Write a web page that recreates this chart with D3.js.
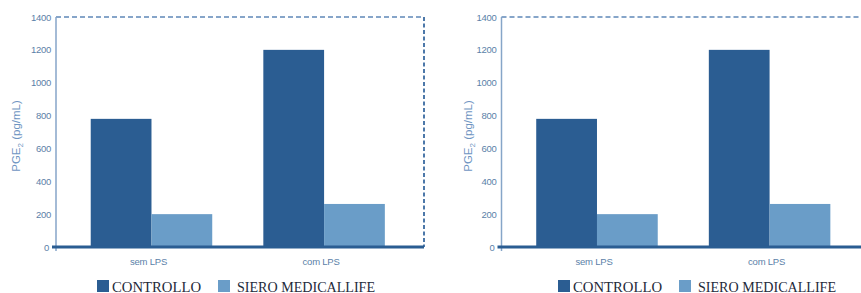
<!DOCTYPE html>
<html><head><meta charset="utf-8">
<script src="https://cdn.jsdelivr.net/npm/d3@7"></script>
<style>html,body{margin:0;padding:0;background:#fff;}svg{display:block;}</style>
</head><body>
<script>
const categories = ["sem LPS", "com LPS"];
const seriesNames = ["CONTROLLO", "SIERO MEDICALLIFE"];
const controllo = [780, 1200];
const siero = [200, 262];
const yTicks = [0, 200, 400, 600, 800, 1000, 1200, 1400];
const colors = ["#2b5d92", "#6a9dc8"];

const W = 861, H = 293;
const svg = d3.select("body").append("svg").attr("width", W).attr("height", H);

const panels = [
  {x0: 56, x1: 424, titleX: 16, legendX: 97},
  {x0: 501.5, x1: 869.5, titleX: 468, legendX: 558}
];
const plotTop = 17, plotBottom = 247;

panels.forEach(p => {
  const g = svg.append("g");
  const x = d3.scaleBand().domain(categories).range([p.x0, p.x1])
    .paddingInner(0.296).paddingOuter(0.214).align(0.47);
  const xs = d3.scaleBand().domain(seriesNames).range([0, x.bandwidth()]);
  const y = d3.scaleLinear().domain([0, 1400]).range([plotBottom, plotTop]);

  g.append("line").attr("x1", p.x0).attr("x2", p.x1).attr("y1", plotTop).attr("y2", plotTop)
    .attr("stroke", "#5f88b8").attr("stroke-width", 1.5).attr("stroke-dasharray", "5,3");
  g.append("line").attr("x1", p.x1).attr("x2", p.x1).attr("y1", plotTop).attr("y2", plotBottom)
    .attr("stroke", "#3a6aa0").attr("stroke-width", 1.8).attr("stroke-dasharray", "4,2.5");
  g.append("line").attr("x1", p.x0).attr("x2", p.x0).attr("y1", plotTop).attr("y2", plotBottom + 4)
    .attr("stroke", "#86a5c8").attr("stroke-width", 1.5);

  const rows = categories.map((c, i) => ({cat: c, vals: [controllo[i], siero[i]]}));
  const grp = g.selectAll("g.grp").data(rows).join("g").attr("class", "grp")
    .attr("transform", d => `translate(${x(d.cat)},0)`);
  grp.selectAll("rect").data(d => d.vals.map((v, j) => ({s: seriesNames[j], v, j})))
    .join("rect")
    .attr("x", d => xs(d.s)).attr("width", xs.bandwidth())
    .attr("y", d => y(d.v)).attr("height", d => y(0) - y(d.v))
    .attr("fill", d => colors[d.j]);

  g.append("line").attr("x1", p.x0 - 4).attr("x2", p.x1).attr("y1", y(0)).attr("y2", y(0))
    .attr("stroke", "#2a5d92").attr("stroke-width", 3);

  const ya = g.append("g").attr("transform", `translate(${p.x0},0)`)
    .call(d3.axisLeft(y).tickValues(yTicks).tickFormat(d3.format("d")).tickSize(0).tickPadding(5));
  ya.select(".domain").remove();
  ya.selectAll("text").attr("fill", "#5b7fa8").attr("font-family", "Liberation Sans, Arial, sans-serif")
    .attr("font-size", "9.5px").attr("letter-spacing", "-0.3px");
  ya.selectAll(".tick").filter(d => d === 0).select("text").attr("dx", "-2");

  g.selectAll("text.cat").data(categories).join("text").attr("class", "cat")
    .attr("x", d => x(d) + x.bandwidth() / 2 - 3).attr("y", 265)
    .attr("text-anchor", "middle").attr("fill", "#5b7fa8")
    .attr("font-family", "Liberation Sans, Arial, sans-serif").attr("font-size", "9.5px")
    .attr("letter-spacing", "-0.2px")
    .text(d => d);

  const t = g.append("text").attr("transform", `translate(${p.titleX},${(plotTop + plotBottom) / 2 + 4}) rotate(-90)`)
    .attr("text-anchor", "middle").attr("dominant-baseline", "central")
    .attr("fill", "#6f95c2").attr("font-family", "Liberation Sans, Arial, sans-serif")
    .attr("font-size", "11.5px");
  t.append("tspan").text("PGE");
  t.append("tspan").attr("font-size", "8px").attr("baseline-shift", "sub").text("2");
  t.append("tspan").text(" (pg/mL)");

  const lg = g.append("g").attr("transform", `translate(${p.legendX},0)`);
  const lx = [0, 121];
  const tl = [89, 138];
  seriesNames.forEach((s, j) => {
    lg.append("rect").attr("x", lx[j]).attr("y", 280).attr("width", 12).attr("height", 12)
      .attr("fill", colors[j]);
    lg.append("text").attr("x", lx[j] + (j === 0 ? 15 : 19)).attr("y", 291.5)
      .attr("font-family", "Liberation Serif, Times New Roman, serif").attr("font-size", "15.5px")
      .attr("fill", "#1e2a3a").attr("textLength", tl[j]).attr("lengthAdjust", "spacingAndGlyphs")
      .text(s);
  });
});
</script>
</body></html>
